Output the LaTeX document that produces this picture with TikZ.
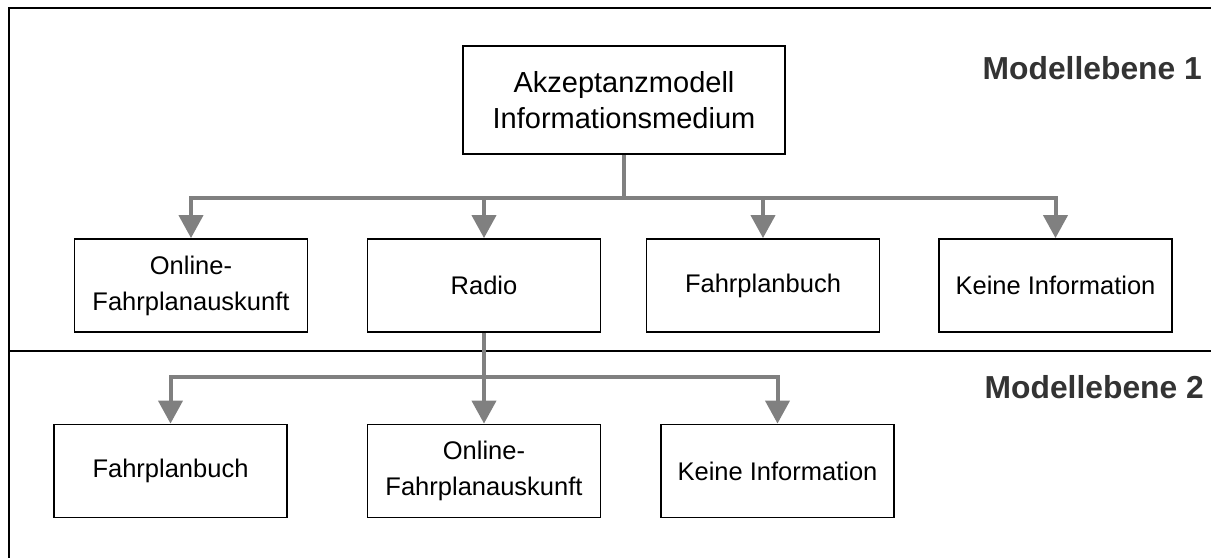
\documentclass[tikz,border=0pt]{standalone}
\usepackage{fontspec}
\setmainfont{Liberation Sans}
\usetikzlibrary{arrows.meta}
\definecolor{connGray}{HTML}{808080}
\definecolor{headGray}{HTML}{333333}
\tikzset{
  box/.style={draw=black, line width=1.8pt, fill=white, minimum width=233pt,
    minimum height=93pt, inner sep=0pt, align=center,
    font=\fontsize{25.5}{36}\selectfont},
  conn/.style={draw=connGray, line width=4pt},
  arr/.style={conn, -{Triangle[width=24pt,length=23pt]}},
  frameline/.style={draw=black, line width=2pt},
  levelhead/.style={anchor=base east, inner sep=0pt, text=headGray,
    font=\fontsize{31.8}{36}\selectfont\bfseries}
}
\begin{document}
\begin{tikzpicture}[x=1pt, y=-1pt]
  \useasboundingbox[fill=white] (0,0) rectangle (1211,558);

  % frame and level divider
  \draw[frameline] (1211,8) -- (8.5,8) -- (8.5,558);
  \draw[frameline] (8.5,351) -- (1211,351);

  % level headings
  \node[levelhead] (lvl1) at (1202,79) {Modellebene 1};
  \node[levelhead] (lvl2) at (1204,398) {Modellebene 2};

  % level 1
  \node[box, minimum width=322pt, minimum height=108pt,
        font=\fontsize{29}{36}\selectfont] (top) at (624,100)
    {Akzeptanzmodell\\Informationsmedium};
  \node[box] (on1) at (191,285.5) {Online-\\Fahrplanauskunft};
  \node[box] (radio) at (484,285.5) {Radio};
  \node[box] (fb1) at (763,285.5) {Fahrplanbuch};
  \node[box] (ki1) at (1055.5,285.5) {Keine Information};

  % level 2
  \node[box] (fb2) at (170.5,471) {Fahrplanbuch};
  \node[box] (on2) at (484,471) {Online-\\Fahrplanauskunft};
  \node[box] (ki2) at (777.5,471) {Keine Information};

  % connectors of level 1
  \coordinate (bus1) at (624,198);
  \draw[conn] (top.south) -- (bus1);
  \draw[arr] (bus1) -| (on1.north);
  \draw[arr] (bus1) -| (radio.north);
  \draw[arr] (bus1) -| (fb1.north);
  \draw[arr] (bus1) -| (ki1.north);

  % connectors of level 2
  \coordinate (bus2) at (484,377);
  \draw[conn] (radio.south) -- (bus2);
  \draw[arr] (bus2) -| (fb2.north);
  \draw[arr] (bus2) -- (on2.north);
  \draw[arr] (bus2) -| (ki2.north);
\end{tikzpicture}
\end{document}
